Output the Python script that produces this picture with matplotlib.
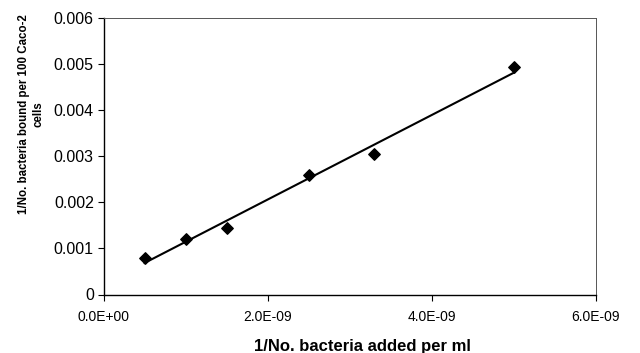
import numpy as np
import matplotlib
matplotlib.use("Agg")
import matplotlib.pyplot as plt
from matplotlib.ticker import FuncFormatter

plt.rcParams['font.family'] = ['Liberation Sans', 'DejaVu Sans']

# data
bacteria_added_inv = [0.5e-9, 1.0e-9, 1.5e-9, 2.5e-9, 3.3e-9, 5.0e-9]
bacteria_bound_inv = [0.00080, 0.00120, 0.00143, 0.00258, 0.00305, 0.00493]

x_ticks = [0.0, 2e-9, 4e-9, 6e-9]
y_ticks = [0, 0.001, 0.002, 0.003, 0.004, 0.005, 0.006]

fig = plt.figure(figsize=(6.4, 3.53), dpi=100)
ax = fig.add_axes([103.5 / 640, 1 - 294.5 / 353, (596 - 103.5) / 640, (294.5 - 17.5) / 353])

ax.scatter(bacteria_added_inv, bacteria_bound_inv, marker='D', s=34, color='black', zorder=3)

# linear trend line
xs = np.array(bacteria_added_inv)
slope, icpt = np.polyfit(xs, bacteria_bound_inv, 1)
xl = np.array([xs.min(), xs.max()])
ax.plot(xl, slope * xl + icpt, color='black', lw=1.5)

ax.set_xlim(0, 6e-9)
ax.set_ylim(0, 0.006)
ax.set_xticks(x_ticks)
ax.set_yticks(y_ticks)

def sci_fmt(v, pos):
    if v == 0:
        return "0.0E+00"
    return "%.1E" % v

ax.xaxis.set_major_formatter(FuncFormatter(sci_fmt))
ax.yaxis.set_major_formatter(FuncFormatter(lambda v, p: "0" if v == 0 else "%.3f" % v))
ax.tick_params(direction='out', length=4, width=0.8, colors='black')
ax.tick_params(axis='y', labelsize=11.5, pad=3)
ax.tick_params(axis='x', labelsize=10, pad=7)

for side in ['top', 'right']:
    ax.spines[side].set_color('#555555')
    ax.spines[side].set_linewidth(0.7)
for side in ['left', 'bottom']:
    ax.spines[side].set_color('black')
    ax.spines[side].set_linewidth(1.0)

fig.text(362 / 640, 1 - 346 / 353, "1/No. bacteria added per ml", ha='center', va='center',
         fontsize=12, fontweight='bold')
fig.text(31 / 640, 1 - 114 / 353, "1/No. bacteria bound per 100 Caco-2\ncells", ha='center', va='center',
         rotation=90, fontsize=8.3, fontweight='bold', linespacing=1.25)

fig.savefig("out.png", dpi=100)
